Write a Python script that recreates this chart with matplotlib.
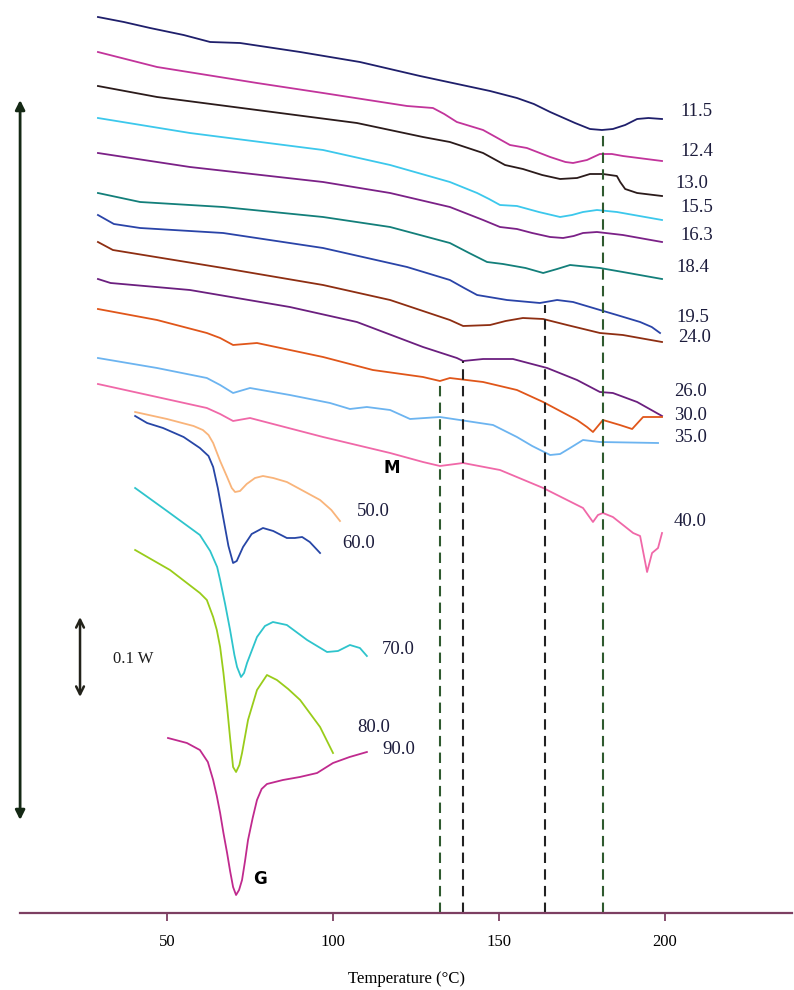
import numpy as np
import matplotlib
matplotlib.use("Agg")
import matplotlib.pyplot as plt

# DSC-Kurven, Temperatur [°C] und Waermestrom [a.u., gestapelt]
labels = ["11.5", "12.4", "13.0", "15.5", "16.3", "18.4", "19.5", "24.0",
          "26.0", "30.0", "35.0", "40.0", "50.0", "60.0", "70.0", "80.0", "90.0"]
kleuren = ["#1f1f6b", "#c2349b", "#2b1b1b", "#3cc8ec", "#7b2187", "#137f7a",
           "#2a44a8", "#8e2e12", "#6b1f7f", "#e0561a", "#6cb4f0", "#f068a8",
           "#f9b47a", "#2746a6", "#2ec4cc", "#99cc1a", "#c02a8e"]

t_115 = [29.2, 37.0, 44.9, 55.0, 63.0, 72.0, 90.1, 108.1, 126.2, 147.3, 155.4, 160.5, 165.4, 172.9, 177.4, 181.0, 184.3, 188.0, 191.6, 195.0, 199.1]
q_115 = [896, 891, 885, 878, 871, 870, 861, 851, 837, 822, 815, 809, 801, 790, 784, 783, 784, 788, 794, 795, 794]
t_124 = [29.2, 47.0, 77.1, 97.0, 122.3, 130.1, 133.5, 137.3, 145.2, 149.0, 153.3, 158.4, 165.4, 170.0, 172.3, 176.5, 180.4, 184.0, 187.3, 199.1]
q_124 = [861, 846, 830, 820, 807, 805, 799, 791, 783, 776, 768, 765, 756, 751, 750, 753, 759, 759, 757, 752]
t_130 = [29.2, 47.0, 77.1, 107.2, 127.1, 135.2, 145.2, 148.5, 151.8, 157.2, 163.0, 168.4, 173.5, 177.4, 181.3, 185.5, 186.5, 188.0, 191.6, 199.1]
q_130 = [827, 816, 803, 790, 776, 771, 760, 754, 748, 744, 738, 734, 735, 739, 739, 737, 731, 724, 720, 717]
t_155 = [29.2, 56.9, 97.0, 117.2, 135.2, 143.4, 147.0, 150.3, 155.4, 162.0, 168.4, 172.0, 175.3, 179.5, 185.5, 199.1]
q_155 = [795, 780, 763, 748, 731, 720, 714, 708, 707, 701, 696, 698, 701, 703, 701, 693]
t_163 = [29.2, 56.9, 97.0, 117.2, 135.2, 145.2, 150.3, 155.4, 160.0, 165.4, 169.3, 172.5, 175.3, 179.5, 187.3, 199.1]
q_163 = [760, 746, 731, 720, 706, 693, 686, 684, 680, 676, 675, 677, 680, 681, 678, 671]
t_184 = [29.2, 41.9, 66.9, 97.0, 117.2, 135.2, 141.0, 146.4, 151.2, 158.0, 163.3, 167.5, 171.4, 180.4, 187.3, 199.1]
q_184 = [720, 711, 706, 696, 686, 670, 660, 651, 649, 645, 640, 644, 648, 645, 641, 634]
t_195 = [29.2, 34.0, 41.9, 66.9, 97.0, 122.3, 135.2, 139.5, 143.4, 152.4, 162.3, 167.5, 172.3, 180.4, 185.5, 192.5, 196.0, 198.5]
q_195 = [698, 689, 685, 680, 665, 646, 633, 625, 618, 613, 610, 613, 611, 603, 598, 591, 586, 580]
t_240 = [29.2, 33.7, 66.9, 97.0, 117.2, 135.2, 139.2, 147.3, 152.0, 157.2, 163.3, 170.5, 180.4, 187.3, 199.1]
q_240 = [671, 663, 645, 628, 613, 593, 587, 588, 592, 595, 594, 588, 580, 578, 571]
t_260 = [29.2, 33.0, 56.9, 87.0, 107.2, 127.1, 137.3, 139.2, 145.2, 154.2, 164.5, 173.5, 180.4, 184.3, 191.6, 199.1]
q_260 = [634, 630, 623, 606, 591, 566, 555, 552, 554, 554, 545, 533, 521, 520, 511, 497]
t_300 = [29.2, 47.0, 62.0, 66.0, 69.9, 77.1, 97.0, 112.0, 127.1, 132.2, 135.2, 145.2, 155.4, 163.3, 173.5, 176.5, 178.3, 181.3, 186.4, 190.1, 193.4, 199.1]
q_300 = [604, 593, 580, 575, 568, 570, 556, 543, 536, 532, 535, 531, 523, 511, 493, 486, 481, 493, 488, 484, 496, 496]
t_350 = [29.2, 47.0, 62.0, 66.0, 69.9, 75.0, 87.0, 99.1, 105.1, 110.2, 117.2, 123.2, 132.2, 148.2, 155.4, 160.0, 165.4, 168.4, 171.4, 175.3, 180.4, 197.9]
q_350 = [555, 545, 535, 528, 520, 525, 518, 510, 504, 506, 503, 494, 496, 488, 476, 467, 458, 459, 465, 473, 471, 470]
t_400 = [29.2, 47.0, 62.0, 66.0, 69.9, 75.0, 97.0, 117.2, 127.1, 132.2, 139.2, 150.3, 163.3, 175.3, 178.3, 179.8, 181.3, 184.3, 190.4, 192.5, 194.6, 196.1, 197.9, 199.1]
q_400 = [529, 516, 505, 499, 492, 495, 476, 460, 451, 447, 450, 443, 425, 405, 391, 398, 400, 396, 380, 377, 341, 360, 365, 380]
t_500 = [40.4, 50.0, 58.0, 60.8, 62.5, 63.9, 66.0, 68.1, 69.5, 70.5, 72.0, 74.0, 76.5, 78.9, 82.0, 86.1, 90.0, 96.1, 99.5, 102.1]
q_500 = [501, 494, 487, 483, 478, 470, 452, 436, 425, 421, 422, 429, 435, 437, 435, 431, 424, 413, 403, 392]
t_600 = [40.4, 44.0, 48.8, 55.0, 59.9, 62.5, 63.9, 65.3, 66.9, 68.5, 69.9, 71.0, 72.9, 75.5, 78.9, 82.0, 86.1, 88.5, 90.7, 93.0, 96.1]
q_600 = [497, 490, 485, 476, 465, 457, 446, 425, 396, 367, 350, 352, 366, 379, 385, 382, 375, 375, 376, 371, 360]
t_700 = [40.4, 50.0, 59.9, 63.0, 65.1, 66.0, 67.5, 69.0, 70.3, 71.1, 72.3, 73.2, 74.1, 77.1, 79.5, 81.9, 86.1, 92.2, 98.2, 101.5, 105.1, 108.1, 110.2]
q_700 = [425, 402, 378, 362, 346, 333, 309, 283, 258, 246, 236, 240, 250, 276, 287, 291, 288, 273, 261, 262, 268, 265, 257]
t_800 = [40.4, 50.9, 59.9, 62.0, 63.9, 65.0, 66.0, 67.0, 68.1, 69.0, 69.9, 70.8, 71.8, 72.6, 74.4, 77.1, 80.1, 83.1, 86.5, 90.1, 96.1, 100.0]
q_800 = [363, 343, 320, 313, 296, 283, 266, 240, 206, 175, 146, 141, 148, 160, 193, 223, 238, 233, 224, 213, 186, 160]
t_900 = [50.3, 56.0, 59.9, 62.3, 63.9, 65.0, 66.0, 67.0, 68.1, 69.0, 69.9, 70.8, 71.7, 72.6, 73.5, 74.4, 75.8, 77.1, 78.5, 80.1, 84.9, 90.0, 95.2, 100.0, 105.0, 110.2]
q_900 = [175, 170, 163, 151, 133, 117, 100, 80, 60, 42, 26, 18, 23, 33, 52, 73, 95, 113, 124, 129, 133, 136, 140, 150, 156, 161]

tijden = [t_115, t_124, t_130, t_155, t_163, t_184, t_195, t_240, t_260,
          t_300, t_350, t_400, t_500, t_600, t_700, t_800, t_900]
stromen = [q_115, q_124, q_130, q_155, q_163, q_184, q_195, q_240, q_260,
           q_300, q_350, q_400, q_500, q_600, q_700, q_800, q_900]

# label positie (temperatuur, waarde)
label_t = [204.5, 204.5, 203.0, 204.5, 204.5, 203.3, 203.3, 203.9,
           202.7, 202.7, 202.7, 202.7, 107.2, 102.7, 114.8, 107.2, 114.8]
label_q = [802, 762, 730, 706, 678, 645, 596, 575, 521, 498, 475, 392,
           401, 369, 263, 185, 163]

# gestippelde lijnen: temperatuur, bovenkant, kleur
piek_t = [132.2, 139.2, 163.9, 181.3]
piek_top = [532, 552, 608, 783]
piek_kleur = ["#2f5a2f", "#222222", "#222222", "#2f5a2f"]

as_kleur = "#7d3f62"
serif = "Liberation Serif"

fig = plt.figure(figsize=(7.94, 9.90), dpi=100)
ax = fig.add_axes([20 / 794, 77 / 990, 772 / 794, 913 / 990])

for t, q, k in zip(tijden, stromen, kleuren):
    ax.plot(t, q, color=k, lw=1.3, solid_joinstyle="round")

for lab, x, y in zip(labels, label_t, label_q):
    ax.text(x, y, lab, fontsize=13.5, family=serif, color="#1c1c3c",
            ha="left", va="center")

for x, top, k in zip(piek_t, piek_top, piek_kleur):
    ax.plot([x, x], [0, top], color=k, lw=1.5, ls=(0, (5, 3)))

ax.text(115.1, 445, "M", fontsize=12, fontweight="bold", family="DejaVu Sans",
        ha="left", va="center")
ax.text(75.9, 34, "G", fontsize=12, fontweight="bold", family="DejaVu Sans",
        ha="left", va="center")
ax.text(33.7, 254, "0.1 W", fontsize=12, family=serif, color="#1c1c1c",
        ha="left", va="center")

# pijlen
ax.annotate("", xy=(5.75, 93), xytext=(5.75, 813),
            arrowprops=dict(arrowstyle="<|-|>", color="#142814", lw=2,
                            mutation_scale=14, shrinkA=0, shrinkB=0),
            annotation_clip=False)
ax.annotate("", xy=(23.8, 216), xytext=(23.8, 296),
            arrowprops=dict(arrowstyle="<->", color="#22221a", lw=1.8,
                            mutation_scale=14, shrinkA=0, shrinkB=0),
            annotation_clip=False)

ax.set_xlim(5.72, 238.25)
ax.set_ylim(0, 913)
for s in ["top", "right", "left"]:
    ax.spines[s].set_visible(False)
ax.spines["bottom"].set_color(as_kleur)
ax.spines["bottom"].set_linewidth(1.6)
ax.set_yticks([])
ax.set_xticks([50, 100, 150, 200])
ax.tick_params(axis="x", direction="out", length=6, width=1.3, color=as_kleur,
               pad=9, labelsize=12)
for lbl in ax.get_xticklabels():
    lbl.set_family(serif)
ax.set_xlabel("Temperature (°C)", family=serif, fontsize=12, labelpad=15)

fig.savefig("out.png", dpi=100)
